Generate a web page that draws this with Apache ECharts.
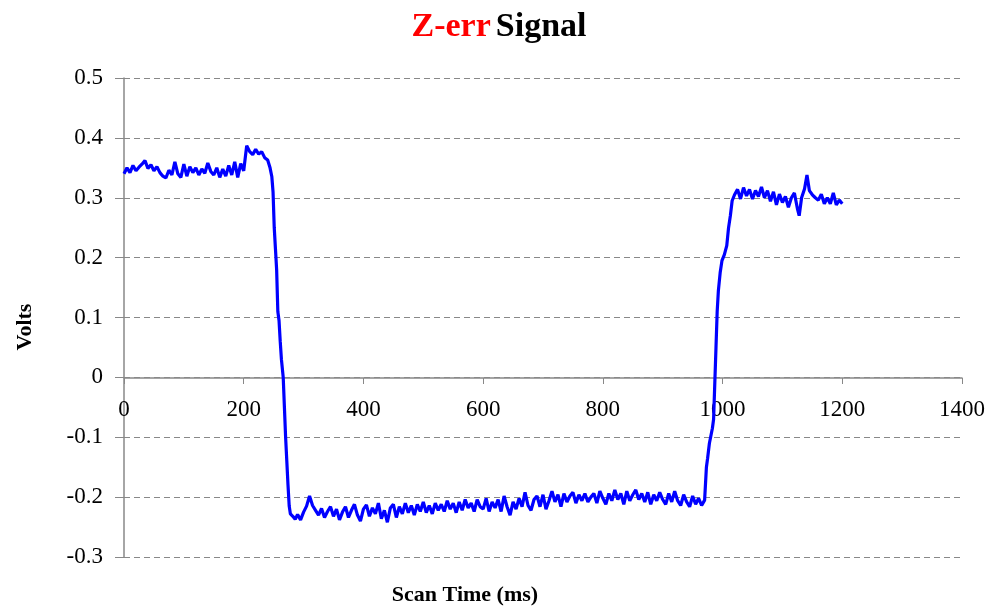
<!DOCTYPE html>
<html>
<head>
<meta charset="utf-8">
<script src="https://cdn.jsdelivr.net/npm/echarts@6/dist/echarts.min.js"></script>
<style>
html, body { margin: 0; padding: 0; background: #fff; }
#chart { width: 998px; height: 608px; }
</style>
</head>
<body>
<div id="chart"></div>
<script>
const timeMs = [
  0, 5, 10, 15, 20, 25, 30, 35, 40, 45, 50, 55, 60, 65, 70, 75, 80, 85, 90, 95,
  100, 105, 110, 115, 120, 125, 130, 135, 140, 145, 150, 155, 160, 165, 170, 175, 180, 185, 190, 195,
  200, 205, 210, 215, 220, 225, 230, 235, 240, 244, 247, 249, 251, 253, 255, 257, 259, 261, 263, 266,
  268, 270, 272, 274, 276, 278, 282, 286, 290, 295, 300, 305, 310, 315, 320, 325, 330, 335, 340, 345,
  350, 355, 360, 365, 370, 375, 380, 385, 390, 395, 400, 405, 410, 415, 420, 425, 430, 435, 440, 445,
  450, 455, 460, 465, 470, 475, 480, 485, 490, 495, 500, 505, 510, 515, 520, 525, 530, 535, 540, 545,
  550, 555, 560, 565, 570, 575, 580, 585, 590, 595, 600, 605, 610, 615, 620, 625, 630, 635, 640, 645,
  650, 655, 660, 665, 670, 675, 680, 685, 690, 695, 700, 705, 710, 715, 720, 725, 730, 735, 740, 745,
  750, 755, 760, 765, 770, 775, 780, 785, 790, 795, 800, 805, 810, 815, 820, 825, 830, 835, 840, 845,
  850, 855, 860, 865, 870, 875, 880, 885, 890, 895, 900, 905, 910, 915, 920, 925, 930, 935, 940, 945,
  950, 955, 960, 965, 970, 973, 975, 978, 980, 983, 985, 987, 989, 991, 993, 996, 999, 1003, 1007, 1010,
  1013, 1016, 1020, 1025, 1030, 1035, 1040, 1045, 1050, 1055, 1060, 1065, 1070, 1075, 1080, 1085, 1090, 1095, 1100, 1105,
  1110, 1115, 1120, 1125, 1128, 1132, 1137, 1141, 1145, 1150, 1155, 1160, 1165, 1170, 1175, 1180, 1185, 1190, 1195, 1200
];
const volts = [
  0.340, 0.350, 0.342, 0.354, 0.345, 0.351, 0.356, 0.362, 0.349, 0.355, 0.345, 0.352, 0.342, 0.336, 0.333, 0.346, 0.338, 0.360, 0.340, 0.334,
  0.356, 0.336, 0.352, 0.342, 0.350, 0.338, 0.348, 0.341, 0.358, 0.344, 0.338, 0.350, 0.334, 0.348, 0.336, 0.354, 0.338, 0.360, 0.334, 0.357,
  0.345, 0.387, 0.377, 0.372, 0.381, 0.373, 0.377, 0.367, 0.363, 0.350, 0.335, 0.310, 0.250, 0.215, 0.180, 0.110, 0.095, 0.060, 0.030, 0.000,
  -0.050, -0.100, -0.140, -0.180, -0.215, -0.228, -0.232, -0.237, -0.229, -0.238, -0.225, -0.215, -0.198, -0.214, -0.222, -0.230, -0.219, -0.234, -0.224, -0.216,
  -0.232, -0.220, -0.238, -0.225, -0.216, -0.234, -0.222, -0.212, -0.230, -0.240, -0.220, -0.213, -0.232, -0.218, -0.228, -0.210, -0.236, -0.222, -0.242, -0.218,
  -0.212, -0.234, -0.216, -0.228, -0.210, -0.226, -0.214, -0.230, -0.212, -0.224, -0.208, -0.226, -0.214, -0.228, -0.210, -0.222, -0.212, -0.224, -0.206, -0.220,
  -0.210, -0.226, -0.208, -0.222, -0.204, -0.218, -0.210, -0.224, -0.204, -0.216, -0.220, -0.202, -0.224, -0.208, -0.218, -0.204, -0.224, -0.198, -0.216, -0.230,
  -0.208, -0.220, -0.202, -0.216, -0.192, -0.214, -0.222, -0.204, -0.198, -0.216, -0.196, -0.220, -0.206, -0.190, -0.208, -0.196, -0.216, -0.194, -0.208, -0.198,
  -0.192, -0.210, -0.196, -0.206, -0.194, -0.208, -0.200, -0.194, -0.210, -0.190, -0.202, -0.212, -0.194, -0.206, -0.188, -0.204, -0.194, -0.212, -0.190, -0.206,
  -0.196, -0.188, -0.204, -0.194, -0.208, -0.192, -0.212, -0.196, -0.206, -0.192, -0.204, -0.212, -0.194, -0.208, -0.190, -0.206, -0.214, -0.196, -0.208, -0.216,
  -0.198, -0.212, -0.202, -0.214, -0.205, -0.150, -0.135, -0.110, -0.100, -0.085, -0.070, -0.010, 0.050, 0.110, 0.145, 0.175, 0.195, 0.205, 0.220, 0.250,
  0.270, 0.295, 0.305, 0.314, 0.298, 0.317, 0.303, 0.314, 0.298, 0.312, 0.302, 0.318, 0.300, 0.312, 0.294, 0.310, 0.288, 0.306, 0.292, 0.302,
  0.284, 0.300, 0.308, 0.282, 0.270, 0.300, 0.315, 0.338, 0.312, 0.305, 0.300, 0.296, 0.306, 0.290, 0.300, 0.290, 0.308, 0.288, 0.296, 0.290
];

const serif = '"Liberation Serif", "Times New Roman", serif';
const chart = echarts.init(document.getElementById('chart'));

const option = {
    animation: false,
    title: {
        text: '{r|Z-err} {k|Signal}',
        left: 'center',
        top: 5,
        textStyle: {
            rich: {
                r: { color: '#ff0000', fontFamily: serif, fontWeight: 'bold', fontSize: 34 },
                k: { color: '#000000', fontFamily: serif, fontWeight: 'bold', fontSize: 34 }
            }
        }
    },
    grid: {
        left: 124,
        right: 36,
        top: 78,
        bottom: 51
    },
    xAxis: {
        type: 'value',
        min: 0,
        max: 1400,
        interval: 200,
        position: 'bottom',
        offset: -179,
        axisLine: { onZero: false, lineStyle: { color: '#888', width: 1.5 } },
        axisTick: { show: true, length: 6, lineStyle: { color: '#888' } },
        axisLabel: {
            color: '#000', fontFamily: serif, fontSize: 23, margin: 20,
            formatter: function (v) { return String(v); }
        },
        splitLine: { show: false }
    },
    yAxis: {
        type: 'value',
        min: -0.3,
        max: 0.5,
        interval: 0.1,
        axisLine: { show: true, lineStyle: { color: '#888', width: 1.5 } },
        axisTick: { show: true, length: 9, lineStyle: { color: '#888' } },
        axisLabel: {
            color: '#000', fontFamily: serif, fontSize: 23, margin: 21,
            formatter: function (v) { return Math.abs(v) < 1e-9 ? '0' : v.toFixed(1); }
        },
        splitLine: { show: true, lineStyle: { color: '#888', type: [6, 4], width: 1.2 } }
    },
    graphic: [
        {
            type: 'text',
            x: 25, y: 327,
            rotation: Math.PI / 2,
            style: {
                text: 'Volts', fill: '#000',
                font: 'bold 22px ' + serif,
                align: 'center', verticalAlign: 'middle'
            }
        },
        {
            type: 'text',
            x: 465, y: 595,
            style: {
                text: 'Scan Time (ms)', fill: '#000',
                font: 'bold 22px ' + serif,
                align: 'center', verticalAlign: 'middle'
            }
        }
    ],
    series: [{
        type: 'line',
        data: timeMs.map((t, i) => [t, volts[i]]),
        showSymbol: false,
        smooth: false,
        lineStyle: { color: '#0000ff', width: 3.2 }
    }]
};
chart.setOption(option);
</script>
</body>
</html>
